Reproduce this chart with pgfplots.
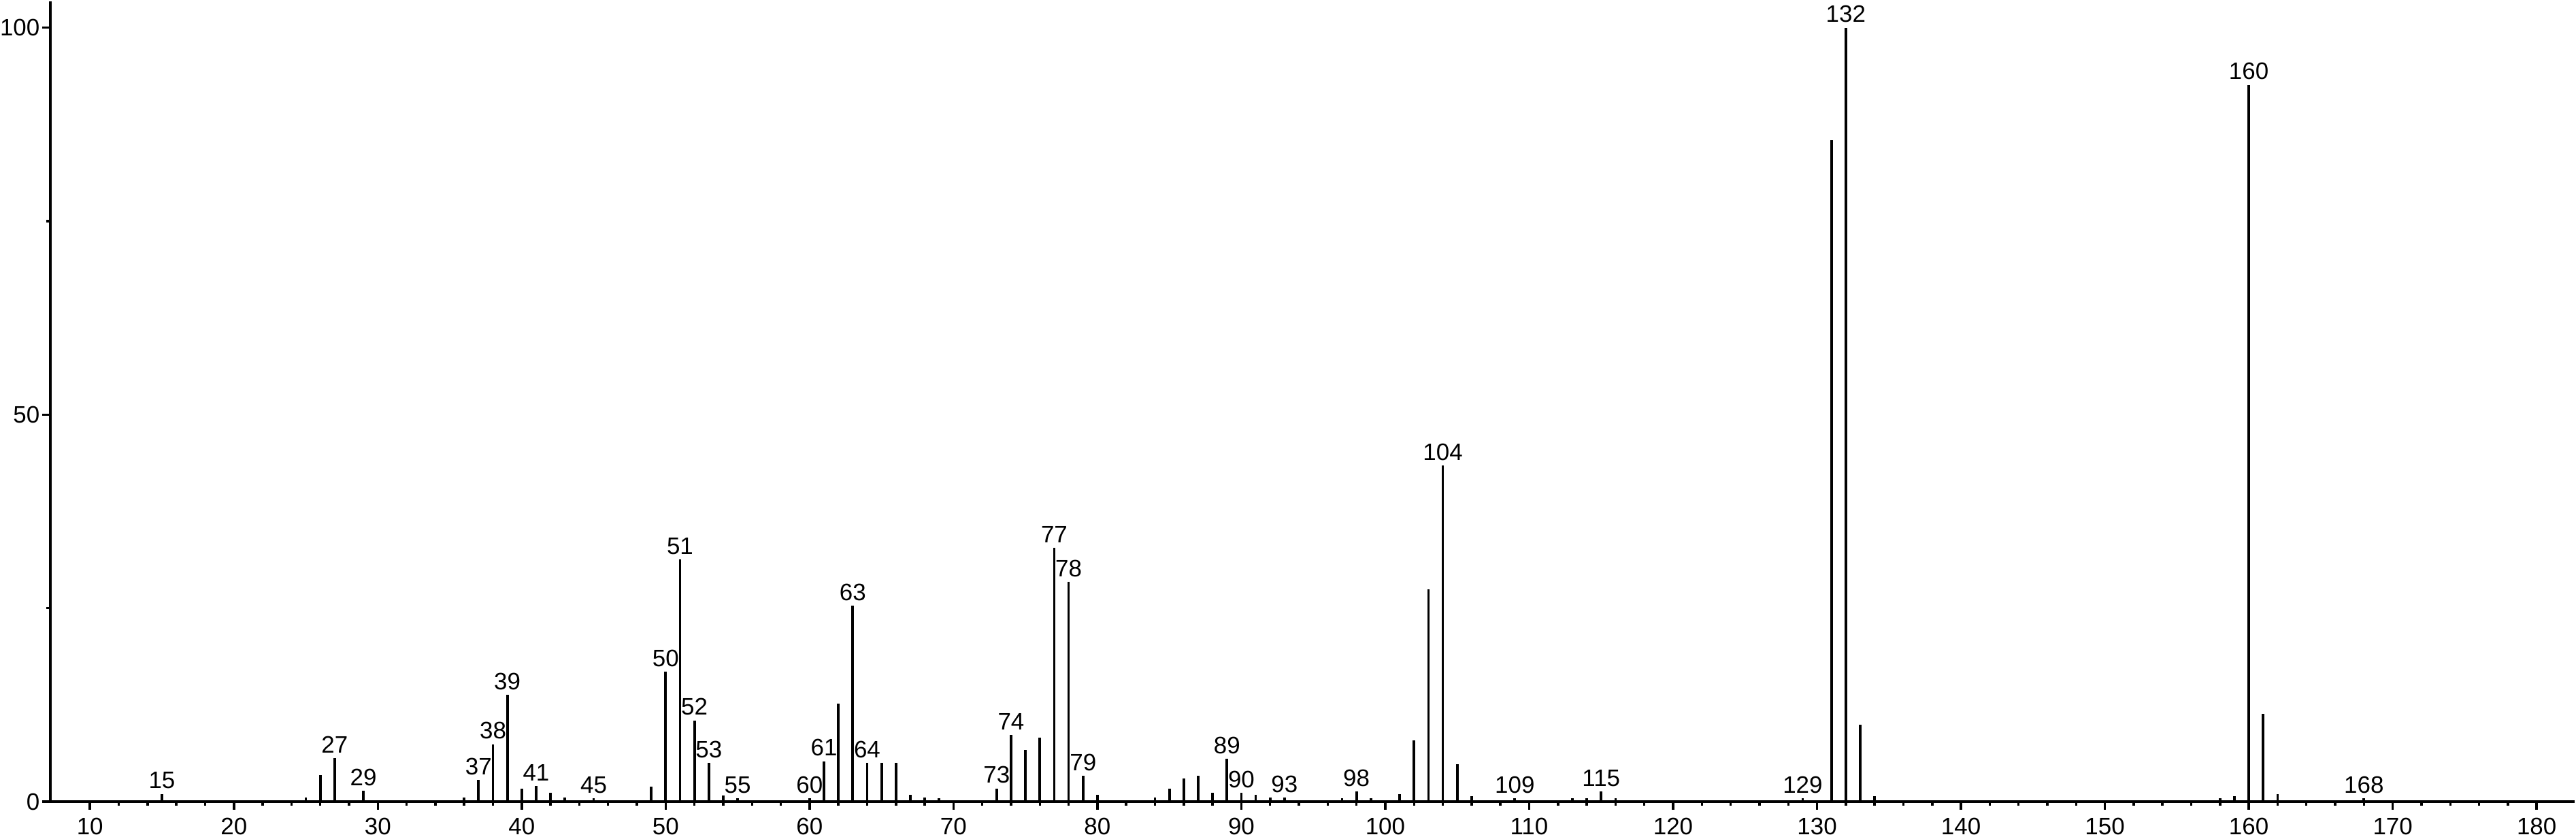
\documentclass[border=0pt]{standalone}
\usepackage{fontspec}
\setmainfont{Liberation Sans}
\usepackage{pgfplots}
\pgfplotsset{compat=1.18}
\begin{document}
\fontsize{7}{8}\selectfont
\begin{tikzpicture}
\begin{axis}[
  scale only axis,
  width=743.2pt, height=235.6pt,
  xmin=7.26, xmax=182.64,
  ymin=0, ymax=103.4,
  axis x line=bottom, axis y line=left,
  axis line style={-, line width=0.8pt, black},
  xtick={10,20,...,180},
  minor x tick num=4,
  ytick={0,50,100},
  minor y tick num=1,
  tick align=outside,
  major tick length=2.4pt,
  minor tick length=1.2pt,
  every tick/.style={black, line width=0.7pt},
  tick label style={font=\fontsize{7}{8}\selectfont},
  /pgf/number format/assume math mode=true,
  xticklabel style={inner ysep=0.5pt, yshift=-1.7pt},
  yticklabel style={inner xsep=0pt, xshift=-0.6pt},
  clip=false,
]
\addplot[ycomb, black, line width=0.75pt, mark=none] coordinates {
(15,1.0) (25,0.5) (26,3.4) (27,5.6) (29,1.4) (36,0.5) (37,2.8) (38,7.4) (39,13.8)
(40,1.7) (41,2.0) (42,1.1) (43,0.5) (45,0.4) (49,1.9) (50,16.8) (51,31.3) (52,10.5)
(53,5.0) (54,0.8) (55,0.4) (60,0.4) (61,5.2) (62,12.7) (63,25.3) (64,5.0) (65,5.0)
(66,5.0) (67,0.85) (68,0.5) (69,0.45) (73,1.7) (74,8.6) (75,6.7) (76,8.3) (77,32.8)
(78,28.4) (79,3.3) (80,0.85) (84,0.5) (85,1.7) (86,3.0) (87,3.3) (88,1.1) (89,5.5)
(90,1.1) (91,0.85) (92,0.5) (93,0.5) (97,0.45) (98,1.3) (99,0.45) (101,1.0) (102,7.9)
(103,27.4) (104,43.4) (105,4.8) (106,0.7) (109,0.45) (113,0.45) (114,0.45) (115,1.3)
(116,0.45) (129,0.45) (131,85.5) (132,100) (133,9.9) (134,0.7) (158,0.45) (159,0.7)
(160,92.6) (161,11.3) (162,1.0) (168,0.45)
};
\addplot[draw=none, mark=none, point meta=explicit symbolic,
  nodes near coords,
  every node near coord/.style={anchor=south, inner xsep=0.6pt, inner ysep=1.3pt, font=\fontsize{7}{8}\selectfont, text=black}]
coordinates {
(15,1.0)[15] (27,5.6)[27] (29,1.4)[29] (37,2.8)[37] (38,7.4)[38] (39,13.8)[39]
(41,2.0)[41] (45,0.4)[45] (50,16.8)[50] (51,31.3)[51] (52,10.5)[52] (53,5.0)[53]
(55,0.4)[55] (60,0.4)[60] (61,5.2)[61] (63,25.3)[63] (64,5.0)[64] (73,1.7)[73]
(74,8.6)[74] (77,32.8)[77] (78,28.4)[78] (79,3.3)[79] (89,5.5)[89] (90,1.1)[90]
(93,0.5)[93] (98,1.3)[98] (104,43.4)[104] (109,0.45)[109] (115,1.3)[115]
(129,0.45)[129] (132,100)[132] (160,92.6)[160] (168,0.45)[168]
};
\end{axis}
\end{tikzpicture}
\end{document}
